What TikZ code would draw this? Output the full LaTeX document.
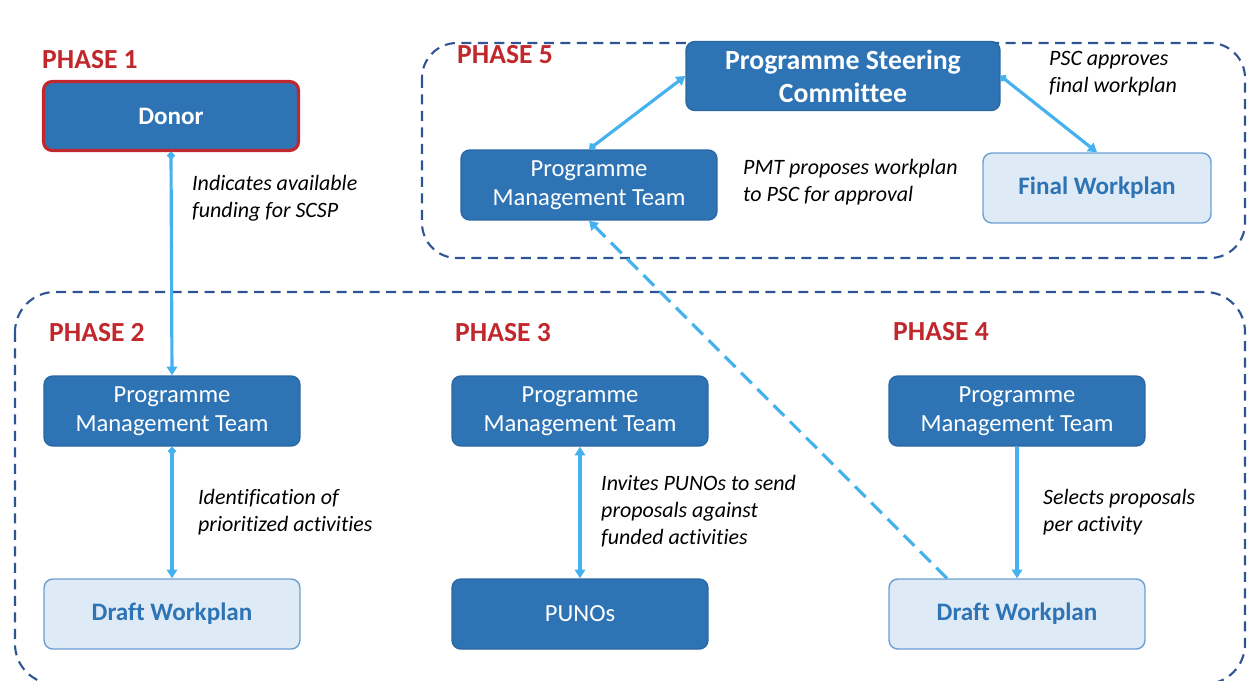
\documentclass[tikz,border=0pt]{standalone}
\usepackage{fontspec}
\setmainfont{Carlito}[Ligatures=NoCommon]
\usetikzlibrary{arrows.meta}
\definecolor{boxblue}{HTML}{2E74B5}
\definecolor{boxedge}{HTML}{2A66A2}
\definecolor{paleblue}{HTML}{DEEAF6}
\definecolor{paleedge}{HTML}{6C9FD2}
\definecolor{arrowblue}{HTML}{45B1EE}
\definecolor{phasered}{HTML}{C0282D}
\definecolor{frameblue}{HTML}{2F5494}
\begin{document}
\begin{tikzpicture}[x=0.02cm,y=-0.02cm,
	team/.style={draw=boxedge,fill=boxblue,text=white,rounded corners=5pt,line width=0.8pt,
		minimum width=5.12cm,minimum height=1.4cm,align=center,font=\fontsize{14}{16.6}\selectfont},
	plan/.style={team,draw=paleedge,fill=paleblue,text=boxblue,font=\fontsize{14.3}{16}\selectfont\bfseries},
	phase/.style={anchor=west,text=phasered,font=\fontsize{15.7}{18}\selectfont\bfseries},
	note/.style={anchor=west,align=left,font=\fontsize{12.5}{15.4}\selectfont\itshape},
	frame/.style={draw=frameblue,line width=1.2pt,dash pattern=on 2mm off 1.3mm},
	link/.style={draw=arrowblue,line width=1.8pt,-{Triangle[length=5pt,width=6pt]}},
	]
	\useasboundingbox (0,0) rectangle (1247,680);
	% dashed frames
	\draw[frame,rounded corners=0.8cm] (15,292) rectangle (1245,684);
	\draw[frame,rounded corners=0.7cm] (422,43) rectangle (1245,258);
	% phases
	\node[phase] (p1) at (36,60) {PHASE 1};
	\node[phase] (p2) at (43,333) {PHASE 2};
	\node[phase] (p3) at (449,333) {PHASE 3};
	\node[phase] (p4) at (887,332) {PHASE 4};
	\node[phase] (p5) at (451,55) {PHASE 5};
	% boxes
	\node[team,draw=phasered,line width=1.8pt,minimum width=5.1cm,minimum height=1.38cm,font=\fontsize{14.3}{16}\selectfont\bfseries] (donor) at (171,116) {Donor};
	\node[team] (pmt2) at (172,411) {Programme\\Management Team};
	\node[team] (pmt3) at (580,411) {Programme\\Management Team};
	\node[team] (pmt4) at (1017,411) {Programme\\Management Team};
	\node[plan] (draft2) at (172,614) {Draft Workplan};
	\node[team] (puno) at (580,614) {PUNOs};
	\node[plan] (draft4) at (1017,614) {Draft Workplan};
	\node[team] (pmt5) at (589,185) {Programme\\Management Team};
	\node[team,minimum width=6.28cm,minimum height=1.38cm,font=\fontsize{15.8}{18.8}\selectfont\bfseries] (psc) at (843,76) {Programme Steering\\Committee};
	\node[plan,minimum width=4.56cm] (final) at (1097,188) {Final Workplan};
	% connectors
	\draw[link,{Circle[length=4pt]}-{Triangle[length=5pt,width=6pt]}] (donor.south) -- (pmt2.north);
	\draw[link,{Diamond[length=5pt,width=5pt]}-{Triangle[length=5pt,width=6pt]}] (pmt2.south) -- (draft2.north);
	\draw[link,{Triangle[length=5pt,width=6pt]}-{Triangle[length=5pt,width=6pt]}] (pmt3.south) -- (puno.north);
	\draw[link] (pmt4.south) -- (draft4.north);
	\draw[link,{Diamond[length=5pt,width=5pt]}-{Triangle[length=5pt,width=6pt]}] (pmt5.north) -- (psc.west);
	\draw[link,{Circle[length=4pt]}-{Triangle[length=5pt,width=6pt]}] (psc.east) -- (final.north);
	\draw[link,dash pattern=on 3mm off 1.6mm] (draft4.153) -- (pmt5.south);
	% notes
	\node[note] (n1) at (186,198) {Indicates available\\funding for SCSP};
	\node[note] (n2) at (192,512) {Identification of\\prioritized activities};
	\node[note] (n3) at (595,511) {Invites PUNOs to send\\proposals against\\funded activities};
	\node[note] (n4) at (1037,512) {Selects proposals\\per activity};
	\node[note] (n5) at (737,182) {PMT proposes workplan\\to PSC for approval};
	\node[note] (n6) at (1043,74) {PSC approves\\final workplan};
\end{tikzpicture}
\end{document}
